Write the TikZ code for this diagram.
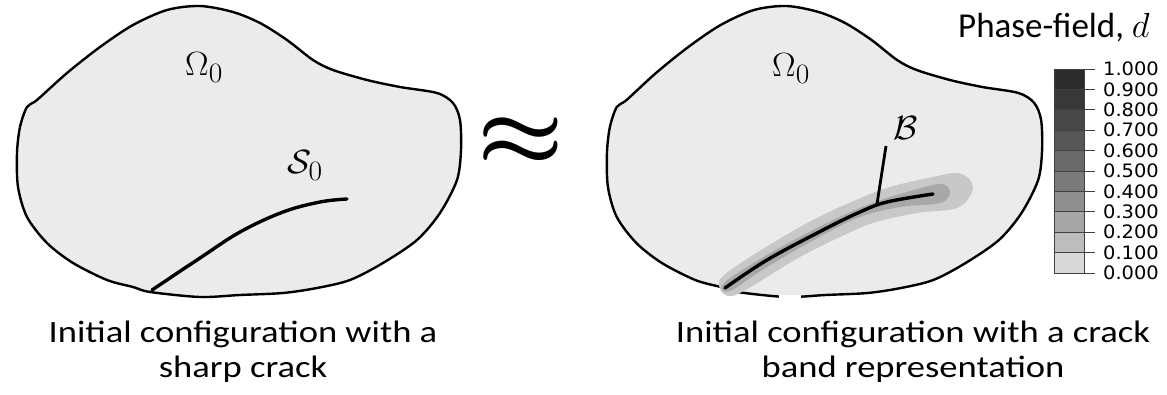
\documentclass[tikz,border=0pt]{standalone}
\usepackage{fontspec}
\newfontfamily\calfont{Carlito}
\newfontfamily\calwide[FakeStretch=1.18]{Carlito}
\newfontfamily\dvfont{DejaVu Sans}
\definecolor{blobfill}{HTML}{EBEBEB}
\definecolor{bandout}{HTML}{C8C8C8}
\definecolor{bandmid}{HTML}{A8A8A8}
\definecolor{legline}{HTML}{404040}
\newcommand{\biglbl}[1]{\scalebox{1.42}[1.35]{#1}}
\tikzset{
  outline/.style={draw=black, line width=2.4pt, fill=blobfill, line join=round},
  crackline/.style={draw=black, line width=3.4pt, line cap=round},
  mathlbl/.style={inner sep=0pt, anchor=base west, font=\Huge},
  caption/.style={inner sep=0pt, anchor=base, font=\calwide\fontsize{31}{35}\selectfont},
  leglbl/.style={inner sep=0pt, anchor=west, font=\dvfont\fontsize{18.5}{20}\selectfont},
}
\def\blobpts{(150,292) (200,297) (240,295) (283,293) (317,288) (350,280) (383,263) (417,240) (440,213) (457,180) (461,150) (460,120) (453,103) (437,93) (400,87) (367,80) (333,70) (313,60) (287,40) (260,23) (233,12) (200,6) (167,10) (133,25) (100,47) (67,73) (37,100) (27,107) (20,127) (17,153) (18,187) (27,217) (47,243) (73,263) (107,280) (133,287)}
\begin{document}
\begin{tikzpicture}[x=1pt,y=-1pt]
\useasboundingbox (0,0) rectangle (1167,395);
% ---------- left blob ----------
\draw[outline] plot[smooth cycle, tension=0.5] coordinates {\blobpts};
\draw[crackline] plot[smooth, tension=0.6] coordinates {(152,290) (200,258) (240,232) (283,212) (320,202) (347,199)};
\node[mathlbl] (om1) at (185,76) {\biglbl{$\Omega_0$}};
\node[mathlbl] (s0) at (287,174) {\biglbl{$\mathcal{S}_0$}};
% ---------- approx ----------
\node[inner sep=0pt, font=\Huge\boldmath] (approx) at (521,142) {\scalebox{3.9}[3.5]{$\approx$}};
% ---------- right blob ----------
\begin{scope}[xshift=590.3pt, xscale=0.98]
\draw[outline] plot[smooth cycle, tension=0.5] coordinates {\blobpts};
\end{scope}
\draw[white, line width=3.4pt] (779,297.2) -- (801,297.2);
\fill[bandout] plot[smooth cycle, tension=0.6] coordinates {(722,277) (750,257) (800,227) (840,207) (887,188) (933,177) (957,173) (970,180) (972,192) (957,208) (917,213) (873,223) (840,237) (800,257) (767,277) (740,293) (728,296) (720,289)};
\fill[bandmid] plot[smooth cycle, tension=0.6] coordinates {(724,283) (767,255) (823,225) (867,205) (907,192) (940,184) (950,192) (940,203) (900,207) (860,217) (823,235) (767,267) (730,291)};
\draw[crackline] plot[smooth, tension=0.6] coordinates {(725,288) (767,260) (823,230) (860,212) (887,202) (933,194)};
\node[mathlbl] (om2) at (772,77) {\biglbl{$\Omega_0$}};
\node[mathlbl] (bb) at (893,140) {\biglbl{$\mathcal{B}$}};
\coordinate (btop) at (886,146);
\coordinate (btip) at (877,204);
\draw[black, line width=2.8pt] (btop) -- (btip);
% ---------- legend ----------
\node[inner sep=0pt, anchor=base west, font=\calfont\fontsize{35}{38}\selectfont] (title) at (958,38) {Phase-field, {\Huge\scalebox{1.4}{$d$}}};
\foreach \i/\p in {0/15,1/26,2/35,3/44,4/52,5/59,6/66,7/72,8/78,9/83}{
  \fill[black!\p] (1054,{273-20.4*\i}) rectangle (1084,{273-20.4*(\i+1)});
}
\foreach \i in {0,...,10}{
  \draw[legline, line width=0.9pt] (1054,{273-20.4*\i}) -- (1095,{273-20.4*\i});
}
\draw[legline, line width=0.9pt] (1054,69) rectangle (1084,273);
\foreach \i/\t in {0/0.000,1/0.100,2/0.200,3/0.300,4/0.400,5/0.500,6/0.600,7/0.700,8/0.800,9/0.900,10/1.000}{
  \node[leglbl] (lab\i) at (1103,{273-20.4*\i}) {\scalebox{1.05}[1]{\t}};
}
% ---------- captions ----------
\node[caption] (capL1) at (243,342) {Initial configuration with a};
\node[caption] (capL2) at (243,377) {sharp crack};
\node[caption] (capR1) at (913,342) {Initial configuration with a crack};
\node[caption] (capR2) at (913,377) {band representation};
\end{tikzpicture}
\end{document}
